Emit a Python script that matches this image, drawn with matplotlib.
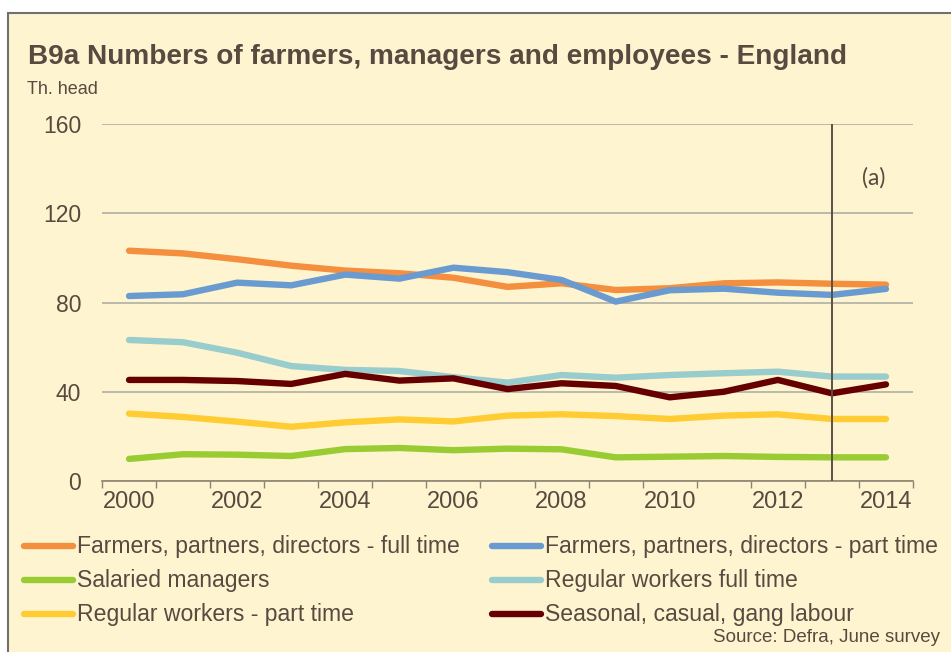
import matplotlib
matplotlib.use("Agg")
import matplotlib.pyplot as plt
from matplotlib.patches import Rectangle
from matplotlib.lines import Line2D

years = list(range(2000, 2015))
farmers_full = [103.2, 102.0, 99.4, 96.5, 94.3, 93.1, 91.1, 87.0, 88.6, 85.6, 86.4, 88.6, 89.0, 88.4, 88.0]
farmers_part = [82.9, 83.7, 88.9, 87.7, 92.5, 90.7, 95.6, 93.6, 90.1, 80.4, 85.5, 86.2, 84.4, 83.4, 86.1]
salaried = [9.9, 12.0, 11.8, 11.2, 14.3, 14.8, 13.8, 14.5, 14.2, 10.6, 10.9, 11.2, 10.8, 10.6, 10.6]
regular_full = [63.2, 62.2, 57.5, 51.5, 49.8, 49.3, 46.5, 44.1, 47.5, 46.3, 47.5, 48.3, 49.0, 46.8, 46.8]
regular_part = [30.2, 28.7, 26.6, 24.3, 26.3, 27.6, 26.7, 29.3, 29.9, 29.1, 27.8, 29.3, 29.9, 27.8, 27.8]
seasonal = [45.3, 45.3, 44.8, 43.5, 48.0, 45.0, 46.0, 41.2, 43.8, 42.6, 37.5, 40.0, 45.3, 39.3, 43.3]

series_names = ["Farmers, partners, directors - full time",
                "Farmers, partners, directors - part time",
                "Salaried managers",
                "Regular workers full time",
                "Regular workers - part time",
                "Seasonal, casual, gang labour"]
series_values = [farmers_full, farmers_part, salaried, regular_full, regular_part, seasonal]
colors = ["#F38F3E", "#6A9BD0", "#99CC33", "#99CCCC", "#FFCC33", "#660000"]
yticks = [0, 40, 80, 120, 160]
xtick_labels = [str(y) for y in years[::2]]
marker_year = 2013

TXT = "#584A40"
BG = "#FEF5D0"
LW = 4.6
plt.rcParams['font.family'] = ['Liberation Sans', 'DejaVu Sans']

W, H = 951, 652
fig = plt.figure(figsize=(W/100, H/100), dpi=100, facecolor="white")
fig.patches.append(Rectangle((8/W, -0.02), 1.05, 1 - 13/H + 0.02, transform=fig.transFigure,
                             facecolor=BG, edgecolor="#707070", linewidth=1.5, zorder=-10))

ax = fig.add_axes([102/W, 1 - 481/H, (913-102)/W, (481-124)/H])
ax.set_facecolor("none")
ax.set_zorder(1)
idx = list(range(len(years)))
for name, vals, c in zip(series_names, series_values, colors):
    ax.plot(idx, vals, color=c, linewidth=LW, solid_capstyle="round", solid_joinstyle="round",
            label=name, zorder=3)

ax.set_xlim(-0.5, len(years) - 0.5)
ax.set_ylim(0, 160)
ax.set_yticks(yticks)
ax.set_yticklabels([str(v) for v in yticks], fontsize=16.5, color=TXT)
ax.yaxis.grid(True, color="#AFAFA5", linewidth=1.2, zorder=1)
ax.tick_params(axis="y", length=0, pad=15)
ax.set_xticks([i for i in idx[::2]])
ax.set_xticklabels(xtick_labels, fontsize=17, color=TXT)
ax.set_xticks([i - 0.5 for i in range(len(years) + 1)], minor=True)
ax.tick_params(axis="x", which="major", length=0, pad=7)
ax.tick_params(axis="x", which="minor", length=5, color="#8C8470", direction="out", width=1)
for s in ["top", "right", "left"]:
    ax.spines[s].set_visible(False)
ax.spines["bottom"].set_color("#8C8470")
ax.spines["bottom"].set_linewidth(1.2)
ax.axvline(years.index(marker_year), color="#5A5048", linewidth=1.4, zorder=4)
ax.text(years.index(marker_year) + 0.56, 135.8, "(a)", fontsize=16.5, color=TXT, family=["Lato", "DejaVu Sans"],
        ha="left", va="center")

fig.text(28/W, 1 - 57/H, "B9a Numbers of farmers, managers and employees - England",
         fontsize=20.2, fontweight="bold", color=TXT, ha="left", va="center")
fig.text(27/W, 1 - 90/H, "Th. head", fontsize=13, color=TXT, ha="left", va="center")
fig.text(940/W, 1 - 638/H, "Source: Defra, June survey", fontsize=13.5, color=TXT, ha="right", va="center")

# legend (two columns, manual layout)
order = [0, 2, 4, 1, 3, 5]
col_x = [22, 490]
row_y = [546, 580, 614]
for k, i in enumerate(order):
    cx = col_x[k // 3]
    ry = row_y[k % 3]
    fig.add_artist(Line2D([(cx + 2)/W, (cx + 51)/W], [1 - ry/H, 1 - ry/H], transform=fig.transFigure,
                          color=colors[i], linewidth=LW, solid_capstyle="round"))
    fig.text((cx + 55)/W, 1 - ry/H, series_names[i], fontsize=16.6, color=TXT, ha="left", va="center")

fig.savefig("out.png", dpi=100, facecolor="white")
